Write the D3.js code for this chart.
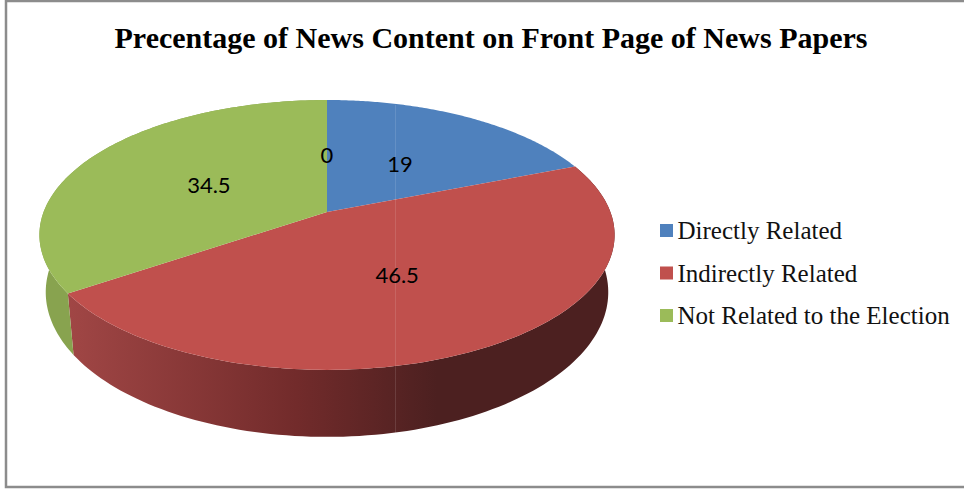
<!DOCTYPE html>
<html>
<head>
<meta charset="utf-8">
<script src="https://cdn.jsdelivr.net/npm/d3@7"></script>
<style>
html, body { margin: 0; padding: 0; background: #fff; }
svg { display: block; }
</style>
</head>
<body>
<div class="canvas"></div>
<script>
const categories = ['Directly Related', 'Indirectly Related', 'Not Related to the Election', '']
const values = [19, 46.5, 34.5, 0]
const title = 'Precentage of News Content on Front Page of News Papers'

const colors = ['#4f81bd', '#c0504d', '#9bbb59', '#8064a2']

const svg = d3.select('.canvas').append('svg').attr('width', 964).attr('height', 489)

svg.append('rect')
    .attr('x', 6).attr('y', 1).attr('width', 970).attr('height', 486)
    .attr('fill', '#fff').attr('stroke', '#8c8c8c').attr('stroke-width', 2.5)

// side gradients
const defs = svg.append('defs')
const sideStops = [
    [[0, '#a04645'], [0.42, '#722b2b'], [0.68, '#4c2020'], [1, '#4c2020']],
    [[0, '#88a34f'], [1, '#88a34f']]
]
sideStops.forEach((stops, i) => {
    const g = defs.append('linearGradient').attr('id', 'side' + i)
        .attr('gradientUnits', 'userSpaceOnUse')
        .attr('x1', 70).attr('x2', 610).attr('y1', 0).attr('y2', 0)
    stops.forEach(s => g.append('stop').attr('offset', s[0]).attr('stop-color', s[1]))
})

// perspective projection of the disc: angle and radius -> page pixels
const persp = -0.17
const xScale = d3.scaleLinear().domain([-1, 1]).range([327 - 283.4, 327 + 283.4])
const yScale = d3.scaleLinear().domain([-1, 1]).range([212 - 95, 212 + 95])

const topPt = (a, r = 1) => {
    const u = r * Math.sin(a), v = -r * Math.cos(a), w = 1 + persp * v
    return [327 + (xScale(u) - 327) / w, yScale(v) / w]
}
const basePt = a => {
    const u = Math.sin(a), v = -Math.cos(a), w = 1 + persp * v
    return [327 + 0.978 * (xScale(u) - 327) / w, yScale(v) / w + 55.6 / w]
}

const pie = d3.pie().sort(null).value(d => d)
const slices = pie(values)

const line = d3.line()
const rim = (fn, s) => d3.range(0, 121).map(i => fn(s.startAngle + (s.endAngle - s.startAngle) * i / 120))

// sides first, the top faces go over them
const chart = svg.append('g')
chart.selectAll('.side').data(slices.slice(1, 3)).enter().append('path')
    .attr('class', 'side')
    .attr('fill', (d, i) => `url(#side${i})`)
    .attr('d', d => line(rim(topPt, d).concat(rim(basePt, d).reverse())) + 'Z')

chart.selectAll('.face').data(slices.slice(0, 3)).enter().append('path')
    .attr('class', 'face')
    .attr('fill', (d, i) => colors[i])
    .attr('d', d => line([topPt(0, 0)].concat(rim(topPt, d))) + 'Z')

// faint seam in the picture
chart.append('line')
    .attr('x1', 395.5).attr('x2', 395.5).attr('y1', 105).attr('y2', 433)
    .attr('stroke', '#fff').attr('stroke-opacity', 0.12)

// data labels
chart.selectAll('.label').data(slices).enter().append('text')
    .attr('class', 'label')
    .attr('x', d => topPt((d.startAngle + d.endAngle) / 2, 0.49)[0])
    .attr('y', d => topPt((d.startAngle + d.endAngle) / 2, 0.49)[1] + 1.5)
    .attr('text-anchor', 'middle')
    .attr('dominant-baseline', 'central')
    .attr('font-family', 'Lato, "Open Sans", sans-serif')
    .attr('font-size', 22)
    .attr('fill', '#000')
    .text(d => d.data)

svg.append('text')
    .attr('x', 491).attr('y', 47.5)
    .attr('text-anchor', 'middle')
    .attr('font-family', '"Liberation Serif", serif')
    .attr('font-weight', 'bold')
    .attr('font-size', 30)
    .attr('fill', '#000')
    .text(title)

// legend
const legendY = d3.scalePoint().domain(categories.slice(0, 3)).range([231, 316])
const legend = svg.selectAll('.legend').data(categories.slice(0, 3)).enter().append('g')
    .attr('class', 'legend')
    .attr('transform', d => `translate(660, ${legendY(d)})`)
legend.append('rect')
    .attr('x', 0).attr('y', -7).attr('width', 13).attr('height', 13)
    .attr('fill', (d, i) => colors[i])
legend.append('text')
    .attr('x', 17.5).attr('y', 8)
    .attr('font-family', '"Liberation Serif", serif')
    .attr('font-size', 25)
    .attr('fill', '#111')
    .text(d => d)
</script>
</body>
</html>
